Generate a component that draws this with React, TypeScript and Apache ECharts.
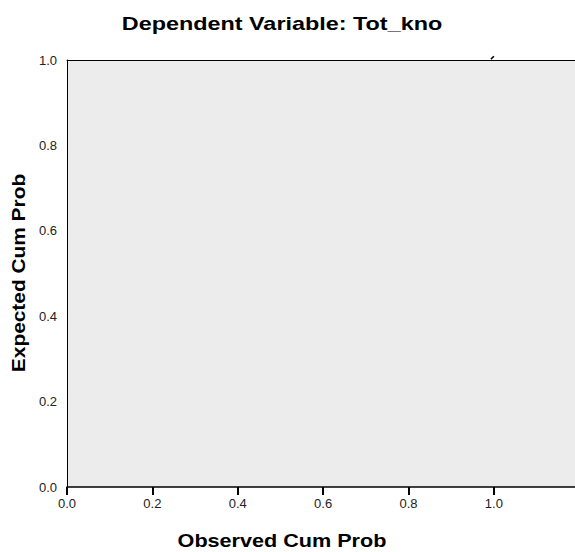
import React, { useEffect, useRef } from "react";
import * as echarts from "echarts";

const titleText = "Dependent Variable: Tot_kno";
const xAxisName = "Observed Cum Prob";
const yAxisName = "Expected Cum Prob";
const xTickValues = [0, 0.2, 0.4, 0.6, 0.8, 1.0];
const yTickValues = [0, 0.2, 0.4, 0.6, 0.8, 1.0];
// visible fragment of the diagonal reference line near (1, 1)
const refLineX = [0.993, 1.0];
const refLineY = [1.002, 1.009];

export default function App() {
  const ref = useRef<HTMLDivElement>(null);
  useEffect(() => {
    if (!ref.current) return;
    const chart = echarts.init(ref.current, null, { renderer: "svg" });
    const fmt = (list: number[]) => (v: number) => {
      const hit = list.find((t) => Math.abs(t - v) < 1e-6);
      return hit === undefined ? "" : hit.toFixed(1);
    };
    chart.setOption({
      animation: false,
      backgroundColor: "#ffffff",
      grid: {
        left: 67,
        top: 60,
        right: 0,
        bottom: 65,
        show: true,
        backgroundColor: "#ECECEC",
        borderWidth: 0,
      },
      xAxis: [
        {
          type: "value",
          min: 0,
          max: 1.19,
          interval: 0.2,
          splitLine: { show: false },
          axisLine: { show: true, onZero: false, lineStyle: { color: "#000", width: 1.5 } },
          axisTick: { show: true, length: 8, lineStyle: { color: "#000", width: 2 } },
          axisLabel: {
            margin: 10,
            color: "#222",
            fontFamily: "Liberation Sans",
            fontSize: 13,
            formatter: fmt(xTickValues),
            showMaxLabel: false,
          },
        },
        {
          type: "value",
          position: "top",
          min: 0,
          max: 1.19,
          splitLine: { show: false },
          axisLine: { show: true, onZero: false, lineStyle: { color: "#000", width: 1 } },
          axisTick: { show: false },
          axisLabel: { show: false },
        },
      ],
      yAxis: {
        type: "value",
        min: 0,
        max: 1.0,
        interval: 0.2,
        splitLine: { show: false },
        axisLine: { show: true, onZero: false, lineStyle: { color: "#000", width: 1 } },
        axisTick: { show: false },
        axisLabel: {
          margin: 10,
          color: "#222",
          fontFamily: "Liberation Sans",
          fontSize: 13,
          formatter: fmt(yTickValues),
        },
      },
      series: [
        {
          type: "line",
          data: refLineX.map((x, i) => [x, refLineY[i]]),
          showSymbol: false,
          clip: false,
          lineStyle: { color: "#000", width: 1.5 },
        },
      ],
      graphic: [
        {
          type: "text",
          x: 282,
          y: 24,
          scaleX: 1.3,
          style: {
            text: titleText,
            fontFamily: "Liberation Sans",
            fontWeight: "bold",
            fontSize: 18,
            fill: "#000",
            textAlign: "center",
            textVerticalAlign: "middle",
          },
        },
        {
          type: "text",
          x: 282,
          y: 541,
          scaleX: 1.2,
          style: {
            text: xAxisName,
            fontFamily: "Liberation Sans",
            fontWeight: "bold",
            fontSize: 18,
            fill: "#000",
            textAlign: "center",
            textVerticalAlign: "middle",
          },
        },
        {
          type: "text",
          x: 19,
          y: 273,
          rotation: Math.PI / 2,
          scaleX: 1.16,
          style: {
            text: yAxisName,
            fontFamily: "Liberation Sans",
            fontWeight: "bold",
            fontSize: 18,
            fill: "#000",
            textAlign: "center",
            textVerticalAlign: "middle",
          },
        },
      ],
    });
    return () => chart.dispose();
  }, []);
  return <div ref={ref} style={{ width: 575, height: 552, position: "absolute", left: 0, top: 0 }} />;
}
